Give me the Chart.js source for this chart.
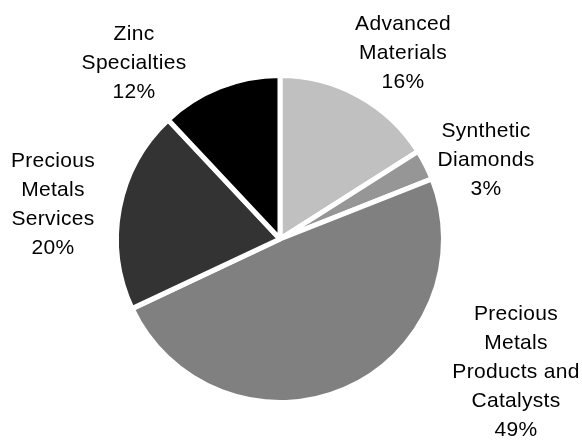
<!DOCTYPE html>
<html>
<head>
<meta charset="utf-8">
<script src="https://cdn.jsdelivr.net/npm/chart.js@4/dist/chart.umd.min.js"></script>
<style>
  html, body { margin: 0; padding: 0; background: #fff; }
  #wrap { position: relative; width: 582px; height: 441px; }
</style>
</head>
<body>
<div id="wrap"><canvas id="segmentChart" width="582" height="441"></canvas></div>
<script>
// segment share of revenue, clockwise from 12 o'clock
const categories = [
    ['Advanced', 'Materials'],
    ['Synthetic', 'Diamonds'],
    ['Precious', 'Metals', 'Products and', 'Catalysts'],
    ['Precious', 'Metals', 'Services'],
    ['Zinc', 'Specialties']
];
const shares = [16, 3, 49, 20, 12];
const sliceColors = ['#c0c0c0', '#969696', '#808080', '#333333', '#000000'];

// where each label block sits (centre x, first baseline y)
const labelSpots = [
    { x: 403, y: 30 },
    { x: 486, y: 137 },
    { x: 516, y: 320 },
    { x: 53, y: 167 },
    { x: 134, y: 40 }
];
const lineGap = 29;

const outsideLabels = {
    id: 'outsideLabels',
    afterDatasetsDraw(chart) {
        const ctx = chart.ctx;
        const ds = chart.data.datasets[0];
        ctx.save();
        ctx.font = '21px "Liberation Sans", Arial, sans-serif';
        ctx.letterSpacing = '0.3px';
        ctx.fillStyle = '#000';
        ctx.textAlign = 'center';
        ctx.textBaseline = 'alphabetic';
        chart.data.labels.forEach((lbl, i) => {
            const lines = lbl.concat([ds.data[i] + '%']);
            const spot = labelSpots[i];
            lines.forEach((t, k) => {
                ctx.fillText(t, spot.x, spot.y + k * lineGap);
            });
        });
        ctx.restore();
    }
};

new Chart(document.getElementById('segmentChart'), {
    type: 'pie',
    data: {
        labels: categories,
        datasets: [{
            data: shares,
            backgroundColor: sliceColors,
            borderColor: '#ffffff',
            borderWidth: 5
        }]
    },
    options: {
        responsive: false,
        animation: false,
        layout: {
            padding: { left: 114, right: 136, top: 73, bottom: 36 }
        },
        plugins: {
            legend: { display: false },
            tooltip: { enabled: false }
        }
    },
    plugins: [outsideLabels]
});
</script>
</body>
</html>
